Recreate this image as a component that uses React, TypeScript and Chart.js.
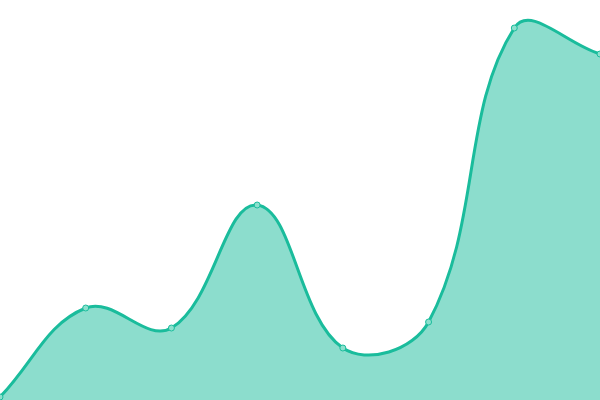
import Chart from "chart.js/auto";
import { useEffect, useRef } from "react";

const labels = ["1", "2", "3", "4", "5", "6", "7", "8"];
const values = [3, 92, 72, 195, 52, 78, 372, 346];

export default function App() {
  const chartRef = useRef<HTMLCanvasElement>(null);

  useEffect(() => {
    document.body.style.margin = "0";
    const ctx = chartRef.current!.getContext("2d")!;
    const chart = new Chart(ctx, {
      type: "line",
      data: {
        labels,
        datasets: [
          {
            data: values,
            borderColor: "#1abc9c",
            borderWidth: 3,
            backgroundColor: "rgba(26, 188, 156, 0.5)",
            fill: true,
            tension: 0.4,
            pointRadius: 3,
            pointBorderWidth: 1,
            pointBorderColor: "#1abc9c",
            pointBackgroundColor: "#8ce0cd",
          },
        ],
      },
      options: {
        animation: false,
        responsive: false,
        layout: { padding: 0, autoPadding: false },
        plugins: {
          legend: { display: false },
          tooltip: { enabled: false },
        },
        scales: {
          x: { display: false, offset: false },
          y: { display: false, min: 0, max: 400 },
        },
      },
    });
    return () => chart.destroy();
  }, []);

  return <canvas ref={chartRef} width={600} height={400} />;
}
